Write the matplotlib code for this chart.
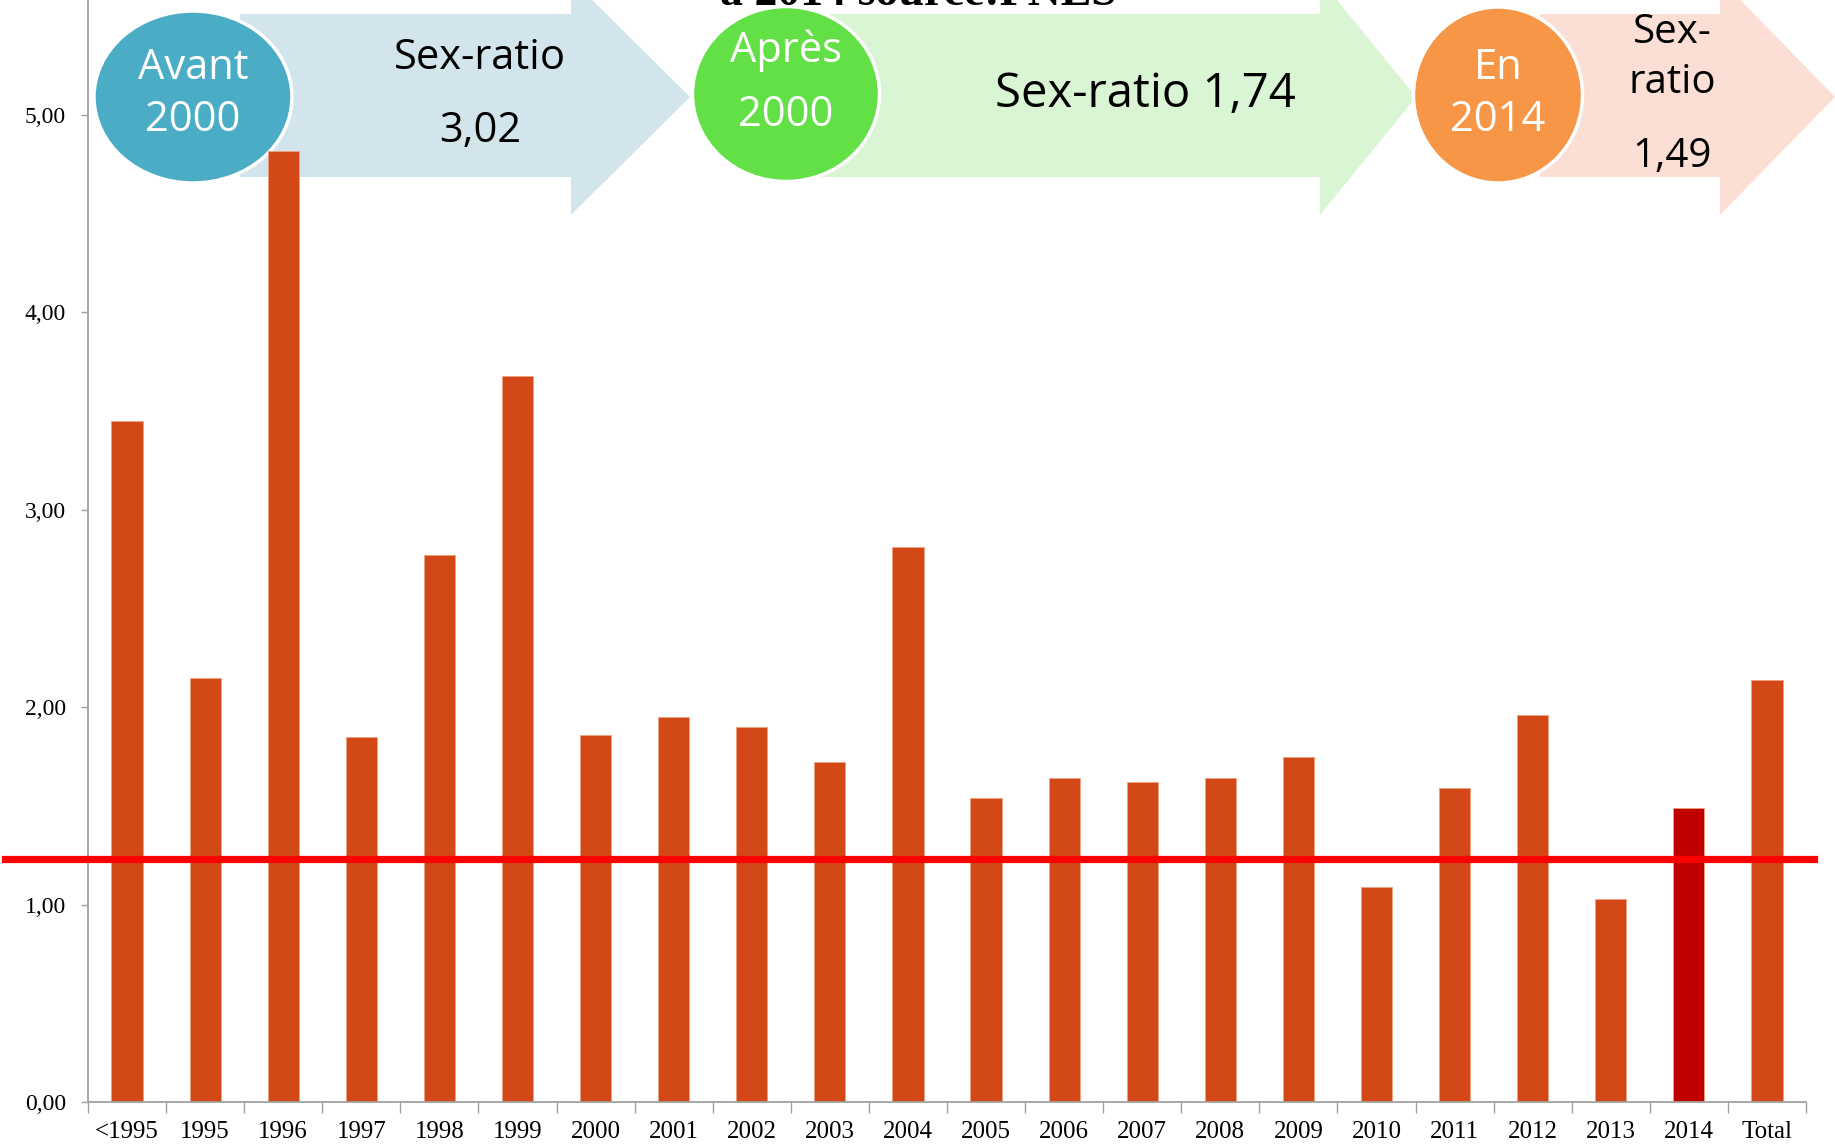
import matplotlib.pyplot as plt
from matplotlib.patches import Polygon, Ellipse

categories = ['<1995', '1995', '1996', '1997', '1998', '1999', '2000', '2001',
              '2002', '2003', '2004', '2005', '2006', '2007', '2008', '2009',
              '2010', '2011', '2012', '2013', '2014', 'Total']
sex_ratio = [3.45, 2.15, 4.82, 1.85, 2.77, 3.68, 1.86, 1.95, 1.90, 1.72, 2.81,
             1.54, 1.64, 1.62, 1.64, 1.75, 1.09, 1.59, 1.96, 1.03, 1.49, 2.14]
highlight = '2014'
ref_line = 1.23
yticks = [0, 1, 2, 3, 4, 5]

period_labels = ['Avant\n2000', 'Après\n2000', 'En\n2014']
period_texts = [['Sex-ratio', '3,02'], ['Sex-ratio 1,74'], ['Sex-', 'ratio', '1,49']]
title = 'à 2014 source:PNLS'

W, H = 1835, 1147
fig = plt.figure(figsize=(W / 100, H / 100), dpi=100)

# background layer for the arrows (pixel coordinates)
bg = fig.add_axes([0, 0, 1, 1], zorder=0)
bg.set_xlim(0, W)
bg.set_ylim(H, 0)
bg.axis('off')

ax = fig.add_axes([88 / W, 45 / H, (1806 - 88) / W, 1102 / H], zorder=1)
ax.patch.set_alpha(0)

colors = ['#C00000' if c == highlight else '#D34817' for c in categories]
x = list(range(len(categories)))
ax.bar(x, sex_ratio, width=0.4, color=colors, edgecolor='#F0A080', linewidth=0.6, zorder=2)
ax.plot([-1.56, 21.6], [ref_line, ref_line], color='#FF0000', lw=5.2, clip_on=False, zorder=3)

ax.set_xlim(-0.5, len(categories) - 0.5)
ax.set_ylim(0, 1102 / 197.4)
ax.set_yticks(yticks)
ax.set_yticklabels([f'{v:.2f}'.replace('.', ',') for v in yticks])
ax.set_xticks(x)
ax.set_xticklabels(categories)
ax.set_xticks([i - 0.5 for i in range(len(categories) + 1)], minor=True)
ax.tick_params(axis='x', which='major', length=0, pad=14, labelsize=18)
ax.tick_params(axis='x', which='minor', length=8, color='#A0A0A0', width=1)
ax.tick_params(axis='y', length=5, color='#A0A0A0', width=1, pad=11, labelsize=17)
for lab in ax.get_xticklabels() + ax.get_yticklabels():
    lab.set_fontfamily('Liberation Serif')
for s in ['top', 'right']:
    ax.spines[s].set_visible(False)
for s in ['left', 'bottom']:
    ax.spines[s].set_color('#A0A0A0')
    ax.spines[s].set_linewidth(1.3)

# arrows: body left, head start, tip x
arrow_geo = [(240, 571, 690), (820, 1320, 1416), (1540, 1720, 1835)]
arrow_cols = ['#D2E5EC', '#DAF5D3', '#FCDFD4']
body_top, body_bot, head_top, head_bot, tip_y = 14, 177, -21, 215, 97
for (bl, hs, tx), col in zip(arrow_geo, arrow_cols):
    pts = [(bl, body_top), (hs, body_top), (hs, head_top), (tx, tip_y),
           (hs, head_bot), (hs, body_bot), (bl, body_bot)]
    bg.add_patch(Polygon(pts, closed=True, facecolor=col, edgecolor='none'))

circles = [(193, 97, 198, 172, '#4BACC6'), (786, 94, 187, 175, '#62E046'),
           (1498, 95, 169, 176, '#F79646')]
for (cx, cy, w, h, col), lab in zip(circles, period_labels):
    bg.add_patch(Ellipse((cx, cy), w, h, facecolor=col, edgecolor='white', lw=2.5))

font = 'Open Sans'
circle_text_y = [(68, 120), (51, 115), (68, 120)]
for (cx, cy, w, h, col), lab, ys in zip(circles, period_labels, circle_text_y):
    for line, yy in zip(lab.split('\n'), ys):
        bg.text(cx, yy, line, ha='center', va='center', color='white',
                fontsize=30, family=font)

bg.text(480, 58, period_texts[0][0], ha='center', va='center', fontsize=30, family=font)
bg.text(480, 131, period_texts[0][1], ha='center', va='center', fontsize=30, family=font)
bg.text(1145, 94, period_texts[1][0], ha='center', va='center', fontsize=34, family=font)
for line, yy in zip(period_texts[2], [33, 83, 157]):
    bg.text(1672, yy, line, ha='center', va='center', fontsize=29, family=font)

bg.text(720, 5, title, ha='left', va='baseline', fontsize=33, fontweight='bold',
        family='Liberation Serif')

fig.savefig('out.png', dpi=100)
